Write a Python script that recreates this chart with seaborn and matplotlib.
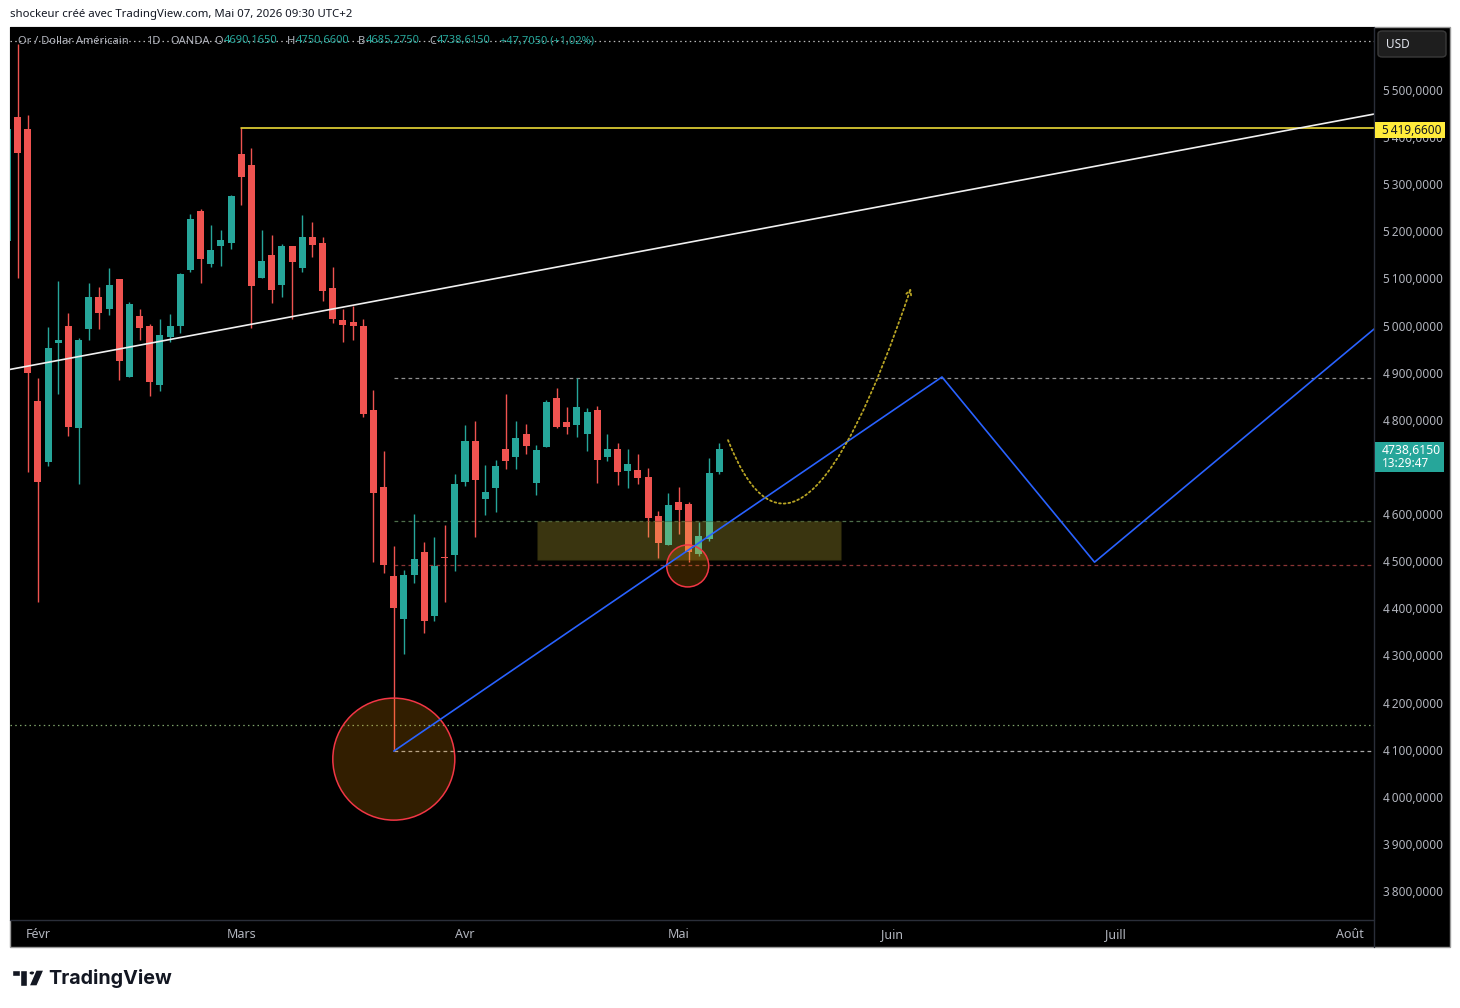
import numpy as np
import pandas as pd
import matplotlib
matplotlib.use("Agg")
import matplotlib.pyplot as plt
import seaborn as sns
from matplotlib.patches import Rectangle, Ellipse, FancyArrowPatch, FancyBboxPatch, Circle, Polygon
from matplotlib.path import Path
from matplotlib.lines import Line2D

# ---------------- data (bar index 0 = first trading day of February) ----------------
first_bar = -3
opens = [5180, 5443, 5417, 4841, 4710, 4963, 5000, 4782, 4992, 5061, 5036, 5098, 4892, 5021,
         5000, 4875, 4975, 4999, 5118, 5243, 5131, 5170, 5176, 5364, 5341, 5102, 5150, 5087,
         5169, 5123, 5188, 5175, 5080, 5012, 5008, 4999, 4821, 4658, 4469, 4377, 4471, 4520,
         4384, 4509, 4513, 4668, 4755, 4632, 4655, 4738, 4721, 4770, 4666, 4742, 4846, 4795,
         4789, 4770, 4821, 4721, 4738, 4691, 4694, 4679, 4596, 4534, 4626, 4621, 4515, 4547,
         4690.165]
highs = [5426, 5598, 5448, 4889, 4998, 5094, 5027, 4974, 5090, 5081, 5122, 5098, 5050, 5035,
         5004, 5015, 5025, 5111, 5237, 5248, 5214, 5203, 5277, 5419.66, 5377, 5203, 5192, 5173,
         5169, 5235, 5220, 5188, 5124, 5035, 5042, 5014, 4863, 4734, 4532, 4481, 4600, 4541,
         4551, 4577, 4685, 4789, 4798, 4704, 4715, 4855, 4798, 4791, 4747, 4842, 4868, 4828,
         4889, 4825, 4829, 4770, 4751, 4738, 4728, 4698, 4607, 4645, 4658, 4626, 4583, 4719,
         4750.66]
lows = [5171, 5101, 4689, 4414, 4703, 4854, 4766, 4664, 4969, 4992, 5023, 4885, 4892, 4969,
        4850, 4861, 4965, 4984, 5114, 5091, 5125, 5127, 5163, 5257, 4994, 5102, 5049, 5061,
        5013, 5114, 5146, 5053, 5006, 4966, 4970, 4805, 4499, 4476, 4097, 4303, 4454, 4348,
        4373, 4413, 4479, 4660, 4551, 4598, 4604, 4696, 4696, 4728, 4641, 4742, 4783, 4770,
        4764, 4734, 4666, 4713, 4662, 4655, 4664, 4551, 4507, 4534, 4558, 4498, 4511, 4543,
        4685.275]
closes = [5417, 5367, 4900, 4668, 4952, 4969, 4784, 4969, 5061, 5027, 5086, 4925, 5046, 4994,
          4881, 4981, 5000, 5109, 5226, 5142, 5160, 5182, 5275, 5316, 5085, 5137, 5076, 5169,
          5134, 5188, 5172, 5074, 5015, 5002, 5000, 4813, 4645, 4493, 4401, 4471, 4505, 4373,
          4490, 4507, 4664, 4755, 4672, 4647, 4702, 4713, 4762, 4745, 4736, 4838, 4785, 4785,
          4827, 4817, 4715, 4738, 4689, 4706, 4677, 4592, 4539, 4619, 4609, 4520, 4554, 4687,
          4738.615]

month_labels = ["Févr", "Mars", "Avr", "Mai", "Juin", "Juill", "Août"]
month_bars = [0, 20, 42, 63, 84, 106, 129]
price_ticks = list(range(3800, 5501, 100))
hidden_tick = 4700  # covered by the last-price label in the reference

# drawings (bar index, price)
trend_bars = [-2.74, 131.4]
trend_prices = [4907, 5449]
proj_bars = [35.0, 88.9, 103.9, 131.4]
proj_prices = [4097, 4891, 4498, 4993]
ath_level = 5419.66
ath_start = 20
curve_bars = [67.86, 74.83, 85.85]
curve_prices = [4757, 4375, 5080]
zone_bars = [49.05, 78.97]
zone_prices = [4502.6, 4585.3]
big_circle = (35.0, 4080)
small_circle = (63.9, 4490)
hlevels = [5604, 4889, 4585, 4492, 4152, 4097]
hstarts = [None, 35, 35, 35, None, 35]
hcolors = ["#b8b8b8", "#8f8f8f", "#4e6e4a", "#8a3434", "#7fa36a", "#a8a8a8"]
hstyles = ["dot", "dash", "dash", "dash", "dot", "dash"]

last_price = "4738,6150"
countdown = "13:29:47"

# ---------------- setup ----------------
sns.set_theme(style="dark")
plt.rcParams['font.family'] = ['Noto Sans', 'DejaVu Sans']

W, H = 1460, 1008
fig = plt.figure(figsize=(W / 100, H / 100), dpi=100, facecolor="white")


def fx(px):
    return px / W


def fy(py):
    return 1 - py / H


UP = "#26a69a"
DOWN = "#ef5350"
AXCOL = "#b2b5be"

# chart panel background
fig.patches.append(Rectangle((fx(10), fy(947)), fx(1450) - fx(10), fy(27) - fy(947),
                             transform=fig.transFigure, facecolor="black",
                             edgecolor="#9a9a9a", lw=1.0, zorder=-1))

ax = fig.add_axes([fx(10), fy(920), fx(1374) - fx(10), fy(27) - fy(920)])
ax.set_facecolor("black")
ax.grid(False)
for s in ax.spines.values():
    s.set_visible(False)

xl = (-2.74, 131.38)
yl = (3738.6, 5633.7)
ax.set_xlim(*xl)
ax.set_ylim(*yl)
px_x = (xl[1] - xl[0]) / 1364.0
px_y = (yl[1] - yl[0]) / 893.0

df = pd.DataFrame({"open": opens, "high": highs, "low": lows, "close": closes})
df["bar"] = np.arange(first_bar, first_bar + len(df))
df["up"] = df["close"] >= df["open"]
df["color"] = np.where(df["up"], UP, DOWN)
df["bottom"] = df[["open", "close"]].min(axis=1)
df["height"] = (df["close"] - df["open"]).abs().clip(lower=2.2)

ax.vlines(df["bar"], df["low"], df["high"], colors=df["color"], lw=1.0, zorder=2)
ax.bar(df["bar"], df["height"], bottom=df["bottom"], width=0.69, color=df["color"],
       edgecolor="none", zorder=2.1)

# horizontal dotted/dashed levels
for lev, st, col, sty in zip(hlevels, hstarts, hcolors, hstyles):
    x0 = xl[0] if st is None else st
    ls = (0, (1.2, 2.6)) if sty == "dot" else (0, (3.0, 2.6))
    ax.plot([x0, xl[1] + 2], [lev, lev], color=col, lw=0.9, ls=ls, zorder=1.8)

# ATH line
ax.plot([ath_start, xl[1] + 2], [ath_level, ath_level], color="#ffeb3b", lw=1.1, zorder=4)

# zone rectangle
ax.add_patch(Rectangle((zone_bars[0], zone_prices[0]), zone_bars[1] - zone_bars[0],
                       zone_prices[1] - zone_prices[0], facecolor="#f5e046", alpha=0.24,
                       edgecolor="#1a1a00", lw=0.8, zorder=3))

# circles
for (cb, cp), r in [(big_circle, 61), (small_circle, 21)]:
    ax.add_patch(Ellipse((cb, cp), 2 * r * px_x, 2 * r * px_y, facecolor="#ff9800",
                         alpha=0.2, edgecolor="none", zorder=3))
    ax.add_patch(Ellipse((cb, cp), 2 * r * px_x, 2 * r * px_y, facecolor="none",
                         edgecolor="#f23645", lw=1.1, zorder=3.1))

# trend line and projection path (seaborn)
sns.lineplot(x=trend_bars, y=trend_prices, ax=ax, color="#f0f0f0", lw=1.2, sort=False,
             zorder=4.5)
sns.lineplot(x=proj_bars, y=proj_prices, ax=ax, color="#2962ff", lw=1.2, sort=False,
             zorder=4.6)

# yellow dotted curve with arrow
cpath = Path(list(zip(curve_bars, curve_prices)), [Path.MOVETO, Path.CURVE3, Path.CURVE3])
arr = FancyArrowPatch(path=cpath, arrowstyle="->", mutation_scale=9, color="#b8a424",
                      lw=1.3, ls=(0, (1.0, 1.6)), zorder=4.7)
arr.set_transform(ax.transData)
ax.add_patch(arr)

# axes ticks
ax.set_xticks(month_bars)
ax.set_xticklabels(month_labels)
ax.yaxis.set_ticks_position("right")
ax.set_yticks(price_ticks)
ax.set_yticklabels(["" if t == hidden_tick else f"{t // 1000}\u2009{t % 1000:03d},0000"
                    for t in price_ticks])
ax.tick_params(axis="x", length=0, pad=5.5, labelsize=9, labelcolor=AXCOL)
ax.tick_params(axis="y", length=0, pad=6.5, labelsize=8.5, labelcolor=AXCOL)
for lab in ax.get_yticklabels():
    lab.set_horizontalalignment("left")

# separators
fig.lines.append(Line2D([fx(1374), fx(1374)], [fy(27), fy(947)], transform=fig.transFigure,
                        color="#2a2e39", lw=1.0))
fig.lines.append(Line2D([fx(10), fx(1374)], [fy(920), fy(920)], transform=fig.transFigure,
                        color="#2a2e39", lw=1.0))

# USD box
fig.patches.append(FancyBboxPatch((fx(1378), fy(57)), fx(1446) - fx(1378), fy(31) - fy(57),
                                  boxstyle="round,pad=0,rounding_size=0.003",
                                  transform=fig.transFigure, facecolor="#1e1e1e",
                                  edgecolor="#3a3a3a", lw=1.0, zorder=5))
fig.text(fx(1386), fy(44), "USD", color="#e0e3eb", fontsize=8.5, va="center", ha="left",
         zorder=6)

# ATH price label
fig.patches.append(Rectangle((fx(1375), fy(138)), fx(1445) - fx(1375), fy(122) - fy(138),
                             transform=fig.transFigure, facecolor="#ffeb3b", edgecolor="none",
                             zorder=5))
fig.text(fx(1382), fy(130), "5\u2009419,6600", color="#131722", fontsize=8.5, va="center",
         ha="left", zorder=6)

# last price label
fig.patches.append(Rectangle((fx(1375), fy(472)), fx(1444) - fx(1375), fy(442) - fy(472),
                             transform=fig.transFigure, facecolor="#26a69a", edgecolor="none",
                             zorder=5))
fig.text(fx(1382), fy(450), last_price, color="white", fontsize=8.8, fontweight="bold",
         va="center", ha="left", zorder=6)
fig.text(fx(1382), fy(464), countdown, color="white", fontsize=8.5, va="center", ha="left",
         zorder=6)

# header line
fig.text(fx(10), fy(14), "shockeur créé avec TradingView.com, Mai 07, 2026 09:30 UTC+2",
         color="#131722", fontsize=8.2, va="center", ha="left")

# legend segments
legend = [(18, "Or / Dollar Américain", AXCOL), (146, "1D", AXCOL), (170, "OANDA", AXCOL),
          (214, "O", AXCOL), (224, "4690,1650", UP), (287, "H", AXCOL), (296, "4750,6600", UP),
          (358, "B", AXCOL), (366, "4685,2750", UP), (429, "C", AXCOL), (437, "4738,6150", UP),
          (500, "+47,7050 (+1,02%)", UP)]
for xp, txt, col in legend:
    fig.text(fx(xp), fy(41), txt, color=col, fontsize=8, va="center", ha="left", zorder=6)

# TradingView logo
fig.patches.append(Rectangle((fx(12), fy(976)), fx(27) - fx(12), fy(970) - fy(976),
                             transform=fig.transFigure, facecolor="#131722", zorder=5))
fig.patches.append(Rectangle((fx(20), fy(986)), fx(27) - fx(20), fy(970) - fy(986),
                             transform=fig.transFigure, facecolor="#131722", zorder=5))
fig.patches.append(Circle((fx(32), fy(973)), 3.2 / W, transform=fig.transFigure,
                          facecolor="#131722", zorder=5))
fig.patches.append(Polygon([(fx(36), fy(970)), (fx(44), fy(970)), (fx(37), fy(986)),
                            (fx(29), fy(986))], closed=True, transform=fig.transFigure,
                           facecolor="#131722", zorder=5))
fig.text(fx(48), fy(978), "TradingView", color="#131722", fontsize=14.2, fontweight="bold",
         va="center", ha="left", family=["Inter", "DejaVu Sans"])

fig.savefig("out.png", dpi=100, facecolor="white")
